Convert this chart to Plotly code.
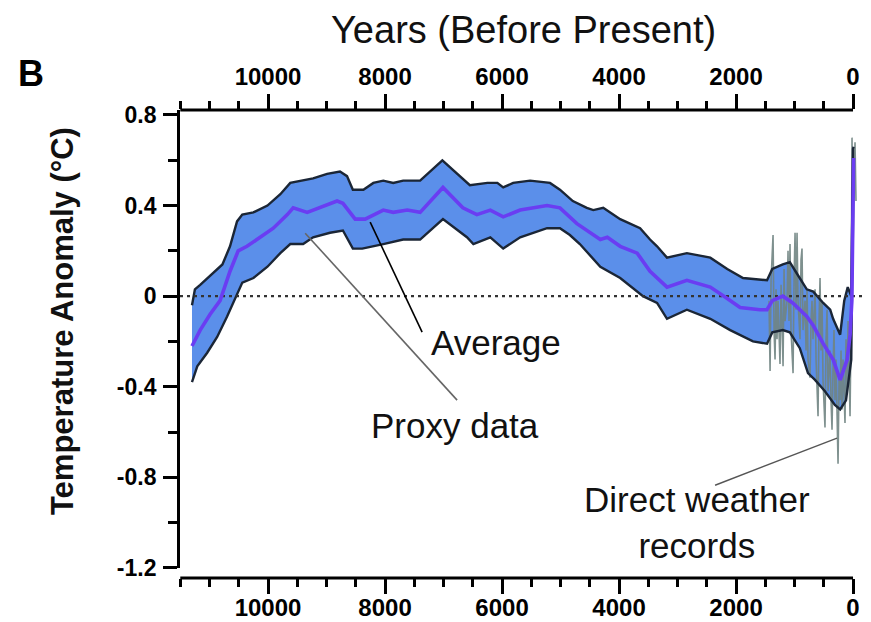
import plotly.graph_objects as go

FONT = "Liberation Sans, Arial, sans-serif"

# ---------------- data (years before present, temperature anomaly in °C) -------------
avg_years = [11300, 11160, 10990, 10820, 10650, 10510, 10360, 10130, 9910, 9670, 9570,
             9330, 9110, 8820, 8720, 8510, 8340, 8030, 7860, 7620, 7400, 7010, 6670,
             6430, 6200, 5980, 5690, 5230, 5010, 4720, 4320, 4200, 3980, 3690, 3470,
             3180, 2840, 2440, 2150, 1930, 1590, 1470, 1380, 1200, 1030, 790, 680,
             510, 340, 220, 100, 50, 20, 0, -10]
avg_vals = [-0.22, -0.15, -0.08, -0.02, 0.11, 0.20, 0.22, 0.26, 0.30, 0.36, 0.39,
            0.37, 0.39, 0.42, 0.41, 0.34, 0.34, 0.38, 0.37, 0.38, 0.37, 0.48, 0.39,
            0.36, 0.38, 0.35, 0.38, 0.40, 0.39, 0.32, 0.25, 0.26, 0.22, 0.19, 0.11,
            0.04, 0.07, 0.04, -0.01, -0.05, -0.06, -0.06, -0.02, 0.00, -0.03, -0.09, -0.13,
            -0.21, -0.28, -0.37, -0.28, -0.17, -0.02, 0.61, 0.61]

upper_years = [11300, 11250, 11160, 10940, 10780, 10650, 10530, 10440, 10250, 10010, 9790,
               9620, 9450, 9230, 8990, 8770, 8650, 8550, 8370, 8200, 8030, 7860, 7690,
               7400, 7020, 6770, 6550, 6250, 6080, 5980, 5810, 5520, 5180, 5010, 4790,
               4550, 4440, 4270, 3980, 3640, 3470, 3350, 3180, 2840, 2440, 2150, 1880,
               1470, 1380, 1200, 1080, 960, 790, 680, 510, 390, 340, 220, 150, 90, 30, 0, -10]
upper_vals = [-0.04, 0.03, 0.05, 0.10, 0.14, 0.22, 0.33, 0.36, 0.37, 0.40, 0.45,
              0.50, 0.51, 0.52, 0.54, 0.55, 0.53, 0.47, 0.47, 0.50, 0.51, 0.50, 0.51,
              0.51, 0.60, 0.54, 0.49, 0.50, 0.50, 0.48, 0.50, 0.51, 0.50, 0.47, 0.42,
              0.39, 0.38, 0.39, 0.34, 0.30, 0.25, 0.22, 0.17, 0.19, 0.17, 0.12, 0.08,
              0.07, 0.12, 0.14, 0.15, 0.10, 0.03, 0.02, -0.03, -0.06, -0.10, -0.17, -0.02, 0.04, 0.00, 0.65, 0.66]

lower_years = [11300, 11210, 11040, 10870, 10700, 10530, 10440, 10250, 10010, 9790, 9620,
               9400, 9230, 8940, 8720, 8550, 8390, 8030, 7690, 7400, 7010, 6600, 6490,
               6200, 5980, 5690, 5230, 5010, 4840, 4670, 4320, 3980, 3590, 3350, 3180,
               2840, 2440, 2100, 1710, 1470, 1380, 1200, 1080, 910, 770, 650, 480, 310,
               220, 120, 30, 0, -10]
lower_vals = [-0.38, -0.31, -0.25, -0.18, -0.09, 0.01, 0.06, 0.08, 0.13, 0.19, 0.23,
              0.23, 0.26, 0.28, 0.29, 0.21, 0.21, 0.23, 0.25, 0.25, 0.34, 0.26, 0.23,
              0.26, 0.21, 0.26, 0.30, 0.30, 0.27, 0.23, 0.13, 0.08, 0.00, -0.03, -0.10,
              -0.06, -0.10, -0.15, -0.20, -0.21, -0.16, -0.15, -0.16, -0.23, -0.34, -0.37, -0.42, -0.48,
              -0.50, -0.46, -0.28, 0.49, 0.55]

direct_years = [1436, 1418, 1401, 1367, 1350, 1333, 1316, 1299, 1282, 1248, 1230, 1196,
                1179, 1162, 1128, 1111, 1094, 1077, 1060, 1025, 1008, 991, 974, 957,
                940, 906, 889, 872, 855, 820, 803, 786, 769, 735, 718, 701, 684, 649,
                632, 598, 581, 564, 547, 530, 513, 479, 461, 444, 427, 393, 376, 359,
                342, 325, 308, 291, 256, 239, 222, 205, 188, 171, 137, 120, 103, 85,
                51, 34, 17, 0, -34, -51]
direct_vals = [-0.02, -0.33, 0.07, 0.27, -0.15, -0.28, 0.03, -0.19, -0.02, -0.30, 0.05, -0.31,
               0.12, -0.11, -0.02, 0.20, -0.11, 0.23, -0.15, -0.34, 0.07, 0.28, -0.06, 0.28,
               -0.02, -0.19, 0.16, 0.21, -0.15, -0.02, -0.24, 0.03, -0.28, -0.36, -0.11, -0.02, -0.19, 0.03,
               -0.28, -0.53, -0.11, 0.08, -0.24, -0.02, -0.37, -0.58, -0.19, -0.06, -0.42, -0.24, -0.46, -0.59,
               -0.33, -0.15, -0.46, -0.28, -0.74, -0.37, -0.46, -0.24, -0.50, -0.28, -0.56, -0.19, -0.42, -0.11,
               -0.53, -0.15, 0.70, 0.20, 0.68, 0.42]

x_tick_vals = [10000, 8000, 6000, 4000, 2000, 0]
x_tick_text = ["10000", "8000", "6000", "4000", "2000", "0"]
x_minor_vals = [11500, 11000, 10500, 9500, 9000, 8500, 7500, 7000, 6500, 5500, 5000,
                4500, 3500, 3000, 2500, 1500, 1000, 500]
y_tick_vals = [0.8, 0.4, 0, -0.4, -0.8, -1.2]
y_tick_text = ["0.8", "0.4", "0", "-0.4", "-0.8", "-1.2"]
y_minor_vals = [0.6, 0.2, -0.2, -0.6, -1.0]
y_all_vals = [0.8, 0.6, 0.4, 0.2, 0, -0.2, -0.4, -0.6, -0.8, -1.0, -1.2]

X_RANGE = [11505, -239]
Y_RANGE = [-1.2005, 0.822]

# ---------------- figure ----------------
fig = go.Figure()

# uncertainty band
fig.add_trace(go.Scatter(
    x=upper_years + lower_years[::-1], y=upper_vals + lower_vals[::-1],
    fill="toself", fillcolor="#5B8FEA", line=dict(width=0), mode="lines",
    hoverinfo="skip", showlegend=False))

# direct weather records
fig.add_trace(go.Scatter(
    x=direct_years, y=direct_vals, mode="lines",
    line=dict(color="rgba(112,132,130,0.9)", width=1.6),
    hoverinfo="skip", showlegend=False))

# band outlines
for yrs, vals in ((upper_years, upper_vals), (lower_years, lower_vals)):
    fig.add_trace(go.Scatter(
        x=yrs, y=vals, mode="lines", line=dict(color="#1B2636", width=2.4),
        hoverinfo="skip", showlegend=False))

# average (on the overlaid top axis so it is drawn on top)
fig.add_trace(go.Scatter(
    x=avg_years, y=avg_vals, mode="lines", xaxis="x2",
    line=dict(color="#6A3DF2", width=3.6),
    hoverinfo="skip", showlegend=False))

# dotted zero line on right-hand axis overlay
fig.add_trace(go.Scatter(
    x=[X_RANGE[0], X_RANGE[1]], y=[0, 0], mode="lines", yaxis="y2",
    line=dict(color="#333333", width=2.2, dash="3px,4px"),
    hoverinfo="skip", showlegend=False))

tick_font_x = dict(family=FONT, size=24, color="black", weight="bold")
tick_font_y = dict(family=FONT, size=23, color="black", weight="bold")

common_x = dict(range=X_RANGE, showgrid=False, zeroline=False, showline=False,
                automargin=False,
                tickmode="array", tickvals=x_tick_vals, ticktext=x_tick_text,
                ticks="outside", ticklen=15, tickwidth=2.8, tickcolor="black",
                tickfont=tick_font_x,
                minor=dict(tickmode="array", tickvals=x_minor_vals, ticks="outside",
                           ticklen=8, tickwidth=2.5, tickcolor="black", showgrid=False))

# the page body adds an 8px offset, so the figure is drawn 8px smaller
fig.update_layout(
    width=863, height=614,
    margin=dict(l=172, r=4, t=102, b=44),
    plot_bgcolor="white", paper_bgcolor="white",
    showlegend=False,
    xaxis=dict(**common_x, domain=[0, 1], anchor="free", position=0,
               ticklabelstandoff=-7),
    xaxis2=dict(**common_x, overlaying="x", side="top", anchor="y",
                ticklabelstandoff=-1),
    yaxis=dict(range=Y_RANGE, domain=[10 / 468, 1], showgrid=False, zeroline=False,
               automargin=False,
               showline=True, linecolor="black", linewidth=2.8,
               tickmode="array", tickvals=y_tick_vals, ticktext=y_tick_text,
               ticks="outside", ticklen=14, tickwidth=2.8, tickcolor="black",
               tickfont=tick_font_y, ticklabelstandoff=2,
               minor=dict(tickmode="array", tickvals=y_minor_vals, ticks="outside",
                          ticklen=9, tickwidth=2.5, tickcolor="black", showgrid=False)),
    yaxis2=dict(range=Y_RANGE, overlaying="y", side="right", anchor="x",
                automargin=False,
                showgrid=False, zeroline=False, showline=True, linecolor="black",
                linewidth=2.5, tickmode="array", tickvals=y_all_vals,
                ticks="inside", ticklen=4, tickwidth=1.5, tickcolor="black",
                showticklabels=False),
)

# x axis lines (stop at year 0, like the original)
for yp in (0, 1):
    fig.add_shape(type="line", xref="x", yref="paper", x0=11500, x1=0, y0=yp, y1=yp,
                  line=dict(color="black", width=2.8))

# pointer lines for the labels
fig.add_shape(type="line", xref="x", yref="y", x0=8254, y0=0.327, x1=7366, y1=-0.159,
              line=dict(color="black", width=1.6))
fig.add_shape(type="line", xref="x", yref="y", x0=9365, y0=0.278, x1=6768, y1=-0.459,
              line=dict(color="#666666", width=1.6))
fig.add_shape(type="line", xref="x", yref="y", x0=2358, y0=-0.835, x1=273, y1=-0.627,
              line=dict(color="#555555", width=1.4))

ann_font = dict(family=FONT, size=35, color="#111111")
fig.add_annotation(x=6101, y=-0.203, xref="x", yref="y", text="Average",
                   showarrow=False, font=ann_font, xanchor="center", yanchor="middle")
fig.add_annotation(x=6802, y=-0.57, xref="x", yref="y", text="Proxy data",
                   showarrow=False, font=ann_font, xanchor="center", yanchor="middle")
fig.add_annotation(x=2666, y=-1.0, xref="x", yref="y", text="Direct weather<br>records",
                   showarrow=False, font=ann_font, xanchor="center", yanchor="middle")

# titles
fig.add_annotation(x=0.5007, y=1.171, xref="paper", yref="paper",
                   text="Years (Before Present)", showarrow=False,
                   xanchor="center", yanchor="middle",
                   font=dict(family=FONT, size=38, color="#111111"))
fig.add_annotation(x=-0.2169, y=1.077, xref="paper", yref="paper", text="B",
                   showarrow=False, xanchor="center", yanchor="middle",
                   font=dict(family=FONT, size=36, color="black", weight="bold"))
fig.add_annotation(x=-0.1718, y=0.549, xref="paper", yref="paper",
                   text="Temperature Anomaly (°C)", textangle=-90, showarrow=False,
                   xanchor="center", yanchor="middle",
                   font=dict(family=FONT, size=31, color="#111111", weight="bold"))

fig.write_html("out.html")
